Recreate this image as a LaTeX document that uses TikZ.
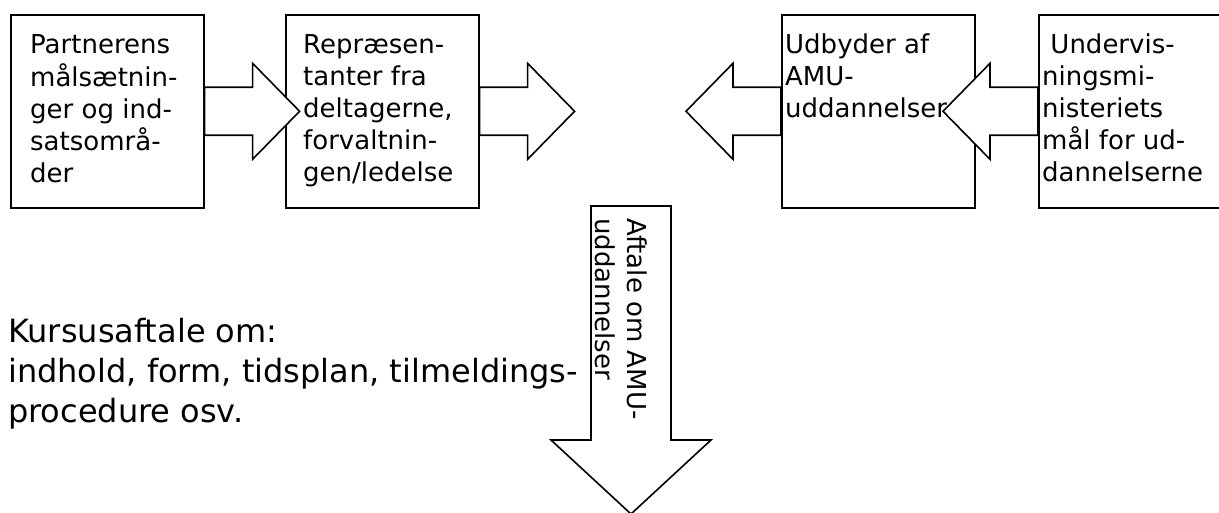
\documentclass[tikz,border=0pt]{standalone}
\usepackage{fontspec}
\setmainfont{DejaVu Sans}

\begin{document}
\begin{tikzpicture}[x=1pt, y=-1pt,
  box/.style={draw, line width=1.6pt, minimum width=193pt, minimum height=193pt, anchor=north west, inner sep=0pt},
  boxtext/.style={anchor=north west, align=left, inner sep=0pt, font=\fontsize{26}{32}\selectfont},
  blockarrow/.style={draw, fill=white, line width=1.6pt, line join=miter}]
\useasboundingbox (0,0) rectangle (1219,513);
\node[box] (partner) at (10,14) {};
\node[box] (repr) at (285,14) {};
\node[box] (udbyder) at (781,14) {};
\node[box] (ministeriet) at (1038,14) {};
\node[boxtext] (partnertxt) at ([shift={(20,16.6)}]partner.north west) {\strut Partnerens\\målsætnin-\\ger og ind-\\satsområ-\\der};
\node[boxtext] (reprtxt) at ([shift={(18,16.6)}]repr.north west) {\strut Repræsen-\\tanter fra\\deltagerne,\\forvaltnin-\\gen/ledelse};
\node[boxtext] (udbydertxt) at ([shift={(4,16.6)}]udbyder.north west) {\strut Udbyder af\\AMU-\\uddannelser};
\node[boxtext] (ministerietxt) at ([shift={(4,16.6)}]ministeriet.north west) {\strut\ Undervis-\\ningsmi-\\nisteriets\\mål for ud-\\dannelserne};
\draw[blockarrow] (partner.east) ++(0,-24) -- ++(48,0) -- ++(0,-24) -- ++(47,48) -- ++(-47,48) -- ++(0,-24) -- ++(-48,0) -- cycle;
\draw[blockarrow] (repr.east) ++(0,-24) -- ++(48,0) -- ++(0,-24) -- ++(47,48) -- ++(-47,48) -- ++(0,-24) -- ++(-48,0) -- cycle;
\draw[blockarrow] (udbyder.west) ++(0,-24) -- ++(-48,0) -- ++(0,-24) -- ++(-47,48) -- ++(47,48) -- ++(0,-24) -- ++(48,0) -- cycle;
\draw[blockarrow] (ministeriet.west) ++(0,-24) -- ++(-48,0) -- ++(0,-24) -- ++(-47,48) -- ++(47,48) -- ++(0,-24) -- ++(48,0) -- cycle;
\coordinate (aftale) at (631,206);
\draw[blockarrow] (aftale) ++(-40,0) -- ++(80,0) -- ++(0,234) -- ++(40,0) -- ++(-80,74) -- ++(-80,-74) -- ++(40,0) -- cycle;
\node[boxtext, rotate=-90] (aftaletxt) at (650,218) {\strut Aftale om AMU-\\uddannelser};
\node[anchor=north west, align=left, inner sep=0pt, font=\fontsize{32}{40}\selectfont] (kursus) at (8,314) {\strut Kursusaftale om:\\indhold, form, tidsplan, tilmeldings-\\procedure osv.};
\end{tikzpicture}
\end{document}
